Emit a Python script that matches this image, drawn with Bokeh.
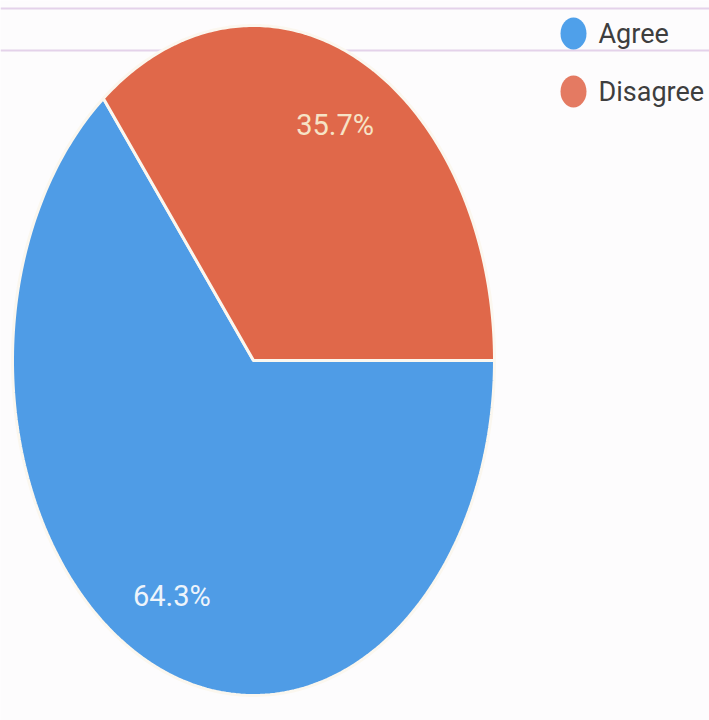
import numpy as np
from bokeh.plotting import figure
from bokeh.models import Range1d, Span
from bokeh.core.properties import value
from bokeh.embed import file_html
from bokeh.resources import INLINE

# ---- data ----
categories = ["Agree", "Disagree"]
shares = [64.3, 35.7]
colors = ["#4f9ce6", "#e0684a"]
legend_dot_colors = ["#4fa0ea", "#e47a62"]
label_colors = ["#eef4fb", "#f6e3c6"]

W, H = 709, 720
p = figure(width=W, height=H, output_backend="svg", toolbar_location=None,
           x_range=Range1d(0, W), y_range=Range1d(H, 0), min_border=0)
p.axis.visible = False
p.grid.visible = False
p.outline_line_color = None
p.background_fill_color = "#fdfcfd"
p.border_fill_color = "#fdfcfd"

for yy in (8, 50):
    p.add_layout(Span(location=yy, dimension="width", line_color="#e4d2ea", line_width=2, level="underlay"))

cx, cy, rx, ry = 253, 360, 241, 335

# Disagree slice drawn counterclockwise from 3 o'clock, Agree fills the rest
fr = np.array(shares) / sum(shares)
ends_deg = [360.0, 360.0 * fr[1]]  # Agree: from Disagree end to 360
starts_deg = [360.0 * fr[1], 0.0]
xs, ys = [], []
for s, e in zip(starts_deg, ends_deg):
    t = np.radians(np.linspace(s, e, 200))
    xs.append([cx] + list(cx + rx * np.cos(t)))
    ys.append([cy] + list(cy - ry * np.sin(t)))
p.patches(xs, ys, fill_color=colors, line_color="#fbf7ef", line_width=3)

# slice labels
for i, (s, e) in enumerate(zip(starts_deg, ends_deg)):
    m = np.radians((s + e) / 2)
    f = 0.78
    p.text(x=[cx + f * rx * np.cos(m)], y=[cy - f * ry * np.sin(m)],
           text=[f"{shares[i]:.1f}%"], text_align="center", text_baseline="middle",
           text_color=label_colors[i], text_font=value("Roboto"), text_font_size="29px")

# legend
leg_y = [33, 91]
p.ellipse(x=[573, 573], y=leg_y, width=26, height=32, fill_color=legend_dot_colors, line_color=None)
p.text(x=[598, 598], y=leg_y, text=categories, text_baseline="middle", text_align="left",
       text_color="#3e3e3e", text_font=value("Roboto"), text_font_size="27px")

open("out.html", "w").write(file_html(p, INLINE))
